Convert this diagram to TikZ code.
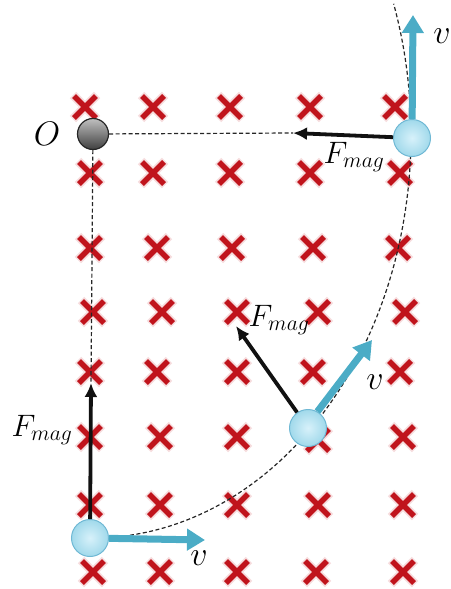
\documentclass[tikz,border=0pt]{standalone}
\usepackage{fix-cm}
\usepackage{tikz}
\usetikzlibrary{arrows.meta,positioning,calc}
\definecolor{xred}{HTML}{C0141C}
\definecolor{vblue}{HTML}{4BACC6}
\definecolor{pfill}{HTML}{BDE8F7}
\definecolor{pedge}{HTML}{6FB8D4}
\definecolor{ink}{HTML}{111111}
\tikzset{
  xmark/.style={line width=5.5pt,draw=xred,line cap=butt},
  xglow/.style={line width=9pt,draw=xred,opacity=0.15},
  part/.style={circle,minimum size=37pt,inner sep=0pt,draw=pedge,line width=1pt,
               inner color=pfill!60!white,outer color=pfill!75!vblue},
  origin/.style={circle,minimum size=31pt,inner sep=0pt,draw=black!85,line width=1.2pt,
               top color=black!25,bottom color=black!75},
  path/.style={line width=1.2pt,draw=black!85,dash pattern=on 4pt off 2.5pt},
  fl/.style={-{Latex[length=14pt,width=13pt]},line width=3.8pt,draw=ink},
  vel/.style={-{Triangle[length=18pt,width=21pt]},line width=7pt,draw=vblue},
  lbl/.style={font=\fontsize{31}{34}\selectfont,inner sep=0pt},
  vlbl/.style={font=\fontsize{34}{38}\selectfont,inner sep=0pt},
}
\begin{document}
\begin{tikzpicture}[x=1pt,y=-1pt]
\useasboundingbox (0,0) rectangle (450,589);
% field into the page
\foreach \x/\y in {85/107,153/107,230/107,310/107,395/107,
                   90/173,153/173,230/173,310/173,400/173,
                   90/248,157/248,232/248,313/248,398/248,
                   93/312,162/312,237/312,318/312,405/312,
                   90/372,157/372,237/372,313/372,400/372,
                   90/437,160/437,237/437,318/440,403/437,
                   90/505,160/505,237/505,318/505,403/505,
                   93/572,160/572,237/572,316/572,403/572}{
  \draw[xglow] (\x-12,\y-12) -- (\x+12,\y+12) (\x-12,\y+12) -- (\x+12,\y-12);
  \draw[xmark] (\x-11,\y-11) -- (\x+11,\y+11) (\x-11,\y+11) -- (\x+11,\y-11);
}
% centre and orbit
\node[origin] (o) at (93,134) {};
\coordinate (ftip1) at (293,133);
\coordinate (ftip3) at (91,383);
\draw[path] (o) -- (ftip1);
\draw[path] (o) -- (ftip3);
\draw[path] plot[domain=-88:19,samples=80] ({93+318*cos(\x)},{135-403*sin(\x)});
% charge at three places
\node[part] (top) at (412,138) {};
\node[part] (mid) at (308,428) {};
\node[part] (bot) at (90,538) {};
\coordinate (vtip1) at (413,15);
\coordinate (vtip2) at (372,340);
\coordinate (vtip3) at (205,540);
\coordinate (ftip2) at (236,326);
\draw[vel] (top) -- (vtip1);
\draw[vel] (mid.60) -- (vtip2);
\draw[vel] (bot) -- (vtip3);
\draw[fl] (top) -- (ftip1);
\draw[fl] (mid.125) -- (ftip2);
\draw[fl] (bot) -- (ftip3);
% labels
\node[vlbl] (lo) at (47,134) {$O$};
\node[vlbl] (lv1) at (442,36) {$v$};
\node[vlbl] (lv2) at (375,382) {$v$};
\node[vlbl] (lv3) at (199,558) {$v$};
\node[lbl] (lf1) at (354,157) {$F_{mag}$};
\node[lbl] (lf2) at (279,320) {$F_{mag}$};
\node[lbl] (lf3) at (42,430) {$F_{mag}$};
\end{tikzpicture}
\end{document}
